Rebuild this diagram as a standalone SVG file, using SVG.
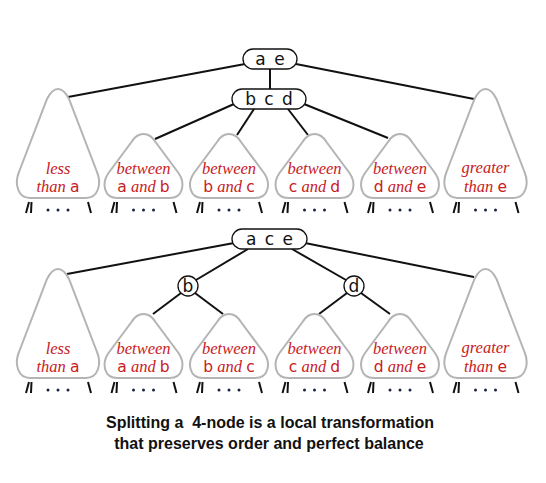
<svg xmlns="http://www.w3.org/2000/svg" width="546" height="483" viewBox="0 0 546 483">
<style>
.tri{fill:#fff;stroke:#b4b4b4;stroke-width:2}
.leg{stroke:#111;stroke-width:2;fill:none}
.dot{fill:#1c2340}
.edge{stroke:#111;stroke-width:2;fill:none}
.box{fill:#fff;stroke:#111;stroke-width:1.3}
.key{font-family:"DejaVu Sans",sans-serif;font-size:17px;fill:#111}
.lab{font-family:"Liberation Serif",serif;font-style:italic;font-size:16.5px;fill:#c8201e}
.s{font-family:"DejaVu Sans",sans-serif;font-style:normal;font-size:15.5px}
.cap{font-family:"Liberation Sans",Arial,sans-serif;font-weight:bold;font-size:16px;fill:#111}
</style>
<defs>
<path id="big" class="tri" d="M0,0 C5,0 8,4 11,10 L39,83 C44,95 40,109 28,109 L-28,109 C-40,109 -44,95 -39,83 L-11,10 C-8,4 -5,0 0,0 Z"/>
<path id="small" class="tri" d="M0,0 C6,0 9,3 12,8 L35,39 C42,49 40,64 26,64 L-26,64 C-40,64 -42,49 -35,39 L-12,8 C-9,3 -6,0 0,0 Z"/>
<g id="legs">
<path class="leg" d="M-32,15 L-29,4 M-27,15 L-26.5,4 M30,4 L33,15"/>
<circle class="dot" cx="-10" cy="12" r="1.5"/>
<circle class="dot" cx="0" cy="12" r="1.5"/>
<circle class="dot" cx="10" cy="12" r="1.5"/>
</g>
</defs>

<g id="connectors">
<path class="edge" d="M270,69 L270,89"/>
<path class="edge" d="M245,64 L68,97"/>
<path class="edge" d="M296,64 L474,99"/>
<path class="edge" d="M234,104 L155,139"/>
<path class="edge" d="M254,109 L237,135"/>
<path class="edge" d="M288,109 L308,135"/>
<path class="edge" d="M304,104 L388,138"/>
<path class="edge" d="M234,243 L67,274"/>
<path class="edge" d="M305,243 L474,277"/>
<path class="edge" d="M248,249 L196,280"/>
<path class="edge" d="M292,249 L346,280"/>
<path class="edge" d="M181,293 L153,314"/>
<path class="edge" d="M195,293 L223,314"/>
<path class="edge" d="M347,293 L319,314"/>
<path class="edge" d="M361,293 L390,314"/>
</g>

<g id="top-ae"><rect class="box" x="243" y="49" width="54" height="20" rx="10"/><text class="key" x="270" y="65" text-anchor="middle" word-spacing="3">a e</text></g>
<g id="top-bcd"><rect class="box" x="232" y="89" width="74" height="20" rx="10"/><text class="key" x="269" y="105" text-anchor="middle" word-spacing="3">b c d</text></g>

<g id="t1"><use href="#big" x="58" y="89"/><use href="#legs" x="58" y="198"/><text class="lab" x="58" y="174" text-anchor="middle">less</text><text class="lab" x="58" y="192" text-anchor="middle">than <tspan class="s">a</tspan></text></g>
<g id="t2"><use href="#small" x="143.5" y="134"/><use href="#legs" x="143.5" y="198"/><text class="lab" x="143.5" y="174" text-anchor="middle">between</text><text class="lab" x="143.5" y="192" text-anchor="middle"><tspan class="s">a</tspan> and <tspan class="s">b</tspan></text></g>
<g id="t3"><use href="#small" x="229" y="134"/><use href="#legs" x="229" y="198"/><text class="lab" x="229" y="174" text-anchor="middle">between</text><text class="lab" x="229" y="192" text-anchor="middle"><tspan class="s">b</tspan> and <tspan class="s">c</tspan></text></g>
<g id="t4"><use href="#small" x="314.5" y="134"/><use href="#legs" x="314.5" y="198"/><text class="lab" x="314.5" y="174" text-anchor="middle">between</text><text class="lab" x="314.5" y="192" text-anchor="middle"><tspan class="s">c</tspan> and <tspan class="s">d</tspan></text></g>
<g id="t5"><use href="#small" x="400" y="134"/><use href="#legs" x="400" y="198"/><text class="lab" x="400" y="174" text-anchor="middle">between</text><text class="lab" x="400" y="192" text-anchor="middle"><tspan class="s">d</tspan> and <tspan class="s">e</tspan></text></g>
<g id="t6"><use href="#big" x="485.5" y="89"/><use href="#legs" x="485.5" y="198"/><text class="lab" x="485.5" y="173" text-anchor="middle">greater</text><text class="lab" x="485.5" y="192" text-anchor="middle">than <tspan class="s">e</tspan></text></g>

<g id="bot-ace"><rect class="box" x="232" y="229" width="75" height="20" rx="10"/><text class="key" x="269.5" y="245" text-anchor="middle" word-spacing="3">a c e</text></g>
<g id="bot-b"><circle class="box" cx="188" cy="286" r="10"/><text class="key" x="188" y="292" text-anchor="middle">b</text></g>
<g id="bot-d"><circle class="box" cx="354" cy="286" r="10"/><text class="key" x="354" y="292" text-anchor="middle">d</text></g>

<g id="b1"><use href="#big" x="58" y="269"/><use href="#legs" x="58" y="378"/><text class="lab" x="58" y="354" text-anchor="middle">less</text><text class="lab" x="58" y="372" text-anchor="middle">than <tspan class="s">a</tspan></text></g>
<g id="b2"><use href="#small" x="143.5" y="314"/><use href="#legs" x="143.5" y="378"/><text class="lab" x="143.5" y="354" text-anchor="middle">between</text><text class="lab" x="143.5" y="372" text-anchor="middle"><tspan class="s">a</tspan> and <tspan class="s">b</tspan></text></g>
<g id="b3"><use href="#small" x="229" y="314"/><use href="#legs" x="229" y="378"/><text class="lab" x="229" y="354" text-anchor="middle">between</text><text class="lab" x="229" y="372" text-anchor="middle"><tspan class="s">b</tspan> and <tspan class="s">c</tspan></text></g>
<g id="b4"><use href="#small" x="314.5" y="314"/><use href="#legs" x="314.5" y="378"/><text class="lab" x="314.5" y="354" text-anchor="middle">between</text><text class="lab" x="314.5" y="372" text-anchor="middle"><tspan class="s">c</tspan> and <tspan class="s">d</tspan></text></g>
<g id="b5"><use href="#small" x="400" y="314"/><use href="#legs" x="400" y="378"/><text class="lab" x="400" y="354" text-anchor="middle">between</text><text class="lab" x="400" y="372" text-anchor="middle"><tspan class="s">d</tspan> and <tspan class="s">e</tspan></text></g>
<g id="b6"><use href="#big" x="485.5" y="269"/><use href="#legs" x="485.5" y="378"/><text class="lab" x="485.5" y="353" text-anchor="middle">greater</text><text class="lab" x="485.5" y="372" text-anchor="middle">than <tspan class="s">e</tspan></text></g>

<g id="caption">
<text class="cap" x="270" y="428" text-anchor="middle" style="white-space:pre">Splitting a  4-node is a local transformation</text>
<text class="cap" x="269" y="449" text-anchor="middle">that preserves order and perfect balance</text>
</g>
</svg>
